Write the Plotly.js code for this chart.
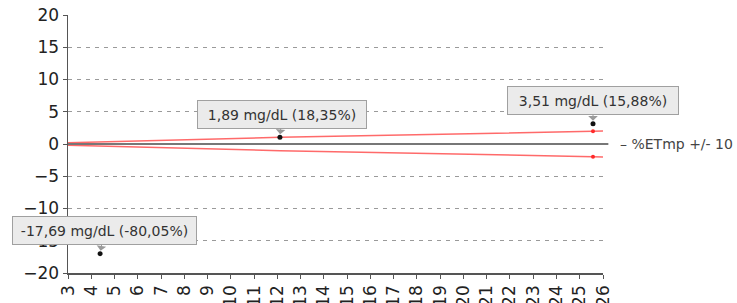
<!DOCTYPE html>
<html>
<head>
<meta charset="utf-8">
<script src="https://cdn.plot.ly/plotly-3.0.1.min.js"></script>
<style>
  html, body { margin: 0; padding: 0; background: #fff; }
  #chart { width: 737px; height: 303px; }
</style>
</head>
<body>
<div id="chart"></div>
<script>
// ---- data ----
const pointX = [4.38, 12.11, 25.57];
const pointY = [-17.0, 1.05, 3.13];
const pointLabels = ['-17,69 mg/dL (-80,05%)', '1,89 mg/dL (18,35%)', '3,51 mg/dL (15,88%)'];
const limitX = [3, 12.11, 25.57, 26];
const upperLimit = [0.2, 1.03, 1.97, 2.0];
const lowerLimit = [-0.2, -1.03, -1.97, -2.0];
const limitMarkX = [25.57, 25.57];
const limitMarkY = [1.97, -1.97];
const legendText = '– %ETmp +/- 10';
const yTicks = [-20, -15, -10, -5, 0, 5, 10, 15, 20];
const gridTicks = [-15, -10, -5, 5, 10, 15];

const FONT = 'DejaVu Sans, Verdana, sans-serif';

const traces = [
  { x: limitX, y: upperLimit, mode: 'lines', line: { color: 'rgba(255,90,90,0.9)', width: 1.5 }, hoverinfo: 'skip', showlegend: false },
  { x: limitX, y: lowerLimit, mode: 'lines', line: { color: 'rgba(255,90,90,0.9)', width: 1.5 }, hoverinfo: 'skip', showlegend: false },
  { x: limitMarkX, y: limitMarkY, mode: 'markers', marker: { color: '#ff2a2a', size: 4 }, showlegend: false },
  { x: pointX, y: pointY, mode: 'markers', marker: { color: '#111', size: 5 }, showlegend: false, cliponaxis: false },
  // invisible trace on secondary axis to create dashed grid
  { x: [3], y: [0], yaxis: 'y2', mode: 'markers', marker: { opacity: 0 }, showlegend: false, hoverinfo: 'skip' }
];

const boxSpecs = [
  { w: 175, ax: 4 },
  { w: 160, ax: 2 },
  { w: 162, ax: 0 }
];

const annotations = pointX.map((x, i) => ({
  x: x, y: pointY[i], xref: 'x', yref: 'y',
  text: pointLabels[i],
  showarrow: true, arrowhead: 1, arrowsize: 1.6, arrowwidth: 1, arrowcolor: '#9a9a9a',
  standoff: 3,
  ax: boxSpecs[i].ax, ay: -23,
  bgcolor: '#ebebeb', bordercolor: '#a0a0a0', borderwidth: 1, borderpad: 4,
  width: boxSpecs[i].w, height: 19,
  font: { family: FONT, size: 14, color: '#333' }
}));

annotations.push({
  xref: 'paper', yref: 'y', x: 1.028, y: 0, xanchor: 'left', yanchor: 'middle',
  text: legendText, showarrow: false,
  font: { family: FONT, size: 14, color: '#444' }
});

const layout = {
  width: 737, height: 303,
  margin: { l: 68, r: 134, t: 15, b: 30, pad: 0 },
  paper_bgcolor: '#fff', plot_bgcolor: '#fff',
  showlegend: false,
  font: { family: FONT, color: '#222' },
  xaxis: {
    range: [3, 26], dtick: 1, tick0: 3, tickangle: -90,
    showgrid: false, zeroline: false,
    showline: true, linecolor: '#555', linewidth: 1.5,
    ticks: 'outside', ticklen: 4, tickcolor: '#555',
    tickfont: { family: FONT, size: 17, color: '#222' },
    automargin: false, fixedrange: true
  },
  yaxis: {
    range: [-20, 20], tickvals: yTicks,
    showgrid: false, zeroline: false,
    showline: true, linecolor: '#555', linewidth: 1.5,
    ticks: 'outside', ticklen: 4, tickcolor: '#555',
    tickfont: { family: FONT, size: 17, color: '#222' },
    automargin: false, fixedrange: true
  },
  yaxis2: {
    range: [-20, 20], overlaying: 'y', tickvals: gridTicks,
    showticklabels: false, ticks: '', showline: false, zeroline: false,
    showgrid: true, gridcolor: '#9a9a9a', gridwidth: 1, griddash: '4px,5px',
    layer: 'below traces'
  },
  shapes: [
    { type: 'line', xref: 'paper', yref: 'y', x0: 0, x1: 1.01, y0: 0, y1: 0, line: { color: '#777', width: 2 } }
  ],
  annotations: annotations
};

Plotly.newPlot('chart', traces, layout, { staticPlot: true, displayModeBar: false });
</script>
</body>
</html>
